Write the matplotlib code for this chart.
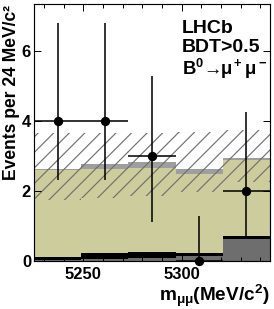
import numpy as np
import matplotlib.pyplot as plt
from matplotlib.ticker import MultipleLocator

plt.rcParams['font.family'] = ['Liberation Sans', 'DejaVu Sans']
plt.rcParams['font.weight'] = 'bold'
plt.rcParams['mathtext.fontset'] = 'custom'
plt.rcParams['mathtext.rm'] = 'Liberation Sans'
plt.rcParams['mathtext.it'] = 'Liberation Sans:italic'
plt.rcParams['mathtext.bf'] = 'Liberation Sans:bold'
plt.rcParams['hatch.linewidth'] = 0.6

# m_mumu bin edges (MeV/c^2), 24 MeV per bin
edges = [5225, 5249, 5273, 5297, 5321, 5345]

# expected contributions, stacked from the bottom up
bkg_gray = [0.04, 0.07, 0.08, 0.15, 0.62]    # dark gray
bkg_black = [0.08, 0.17, 0.17, 0.09, 0.10]   # black
bkg_comb = [2.48, 2.39, 2.42, 2.25, 2.18]    # khaki
sig_exp = [0.03, 0.14, 0.15, 0.14, 0.05]     # light gray

# uncertainty band on the total expectation
band_lo = [1.75, 1.80, 1.85, 1.98, 2.27]
band_hi = [3.66, 3.66, 3.66, 3.68, 3.74]

# observed candidates with asymmetric errors
obs = [4, 4, 3, 0, 2]
obs_lo = [1.67, 1.67, 1.89, 0.0, 1.29]
obs_hi = [2.80, 2.80, 2.30, 1.29, 2.25]

edges = np.array(edges)
left = edges[:-1]
width = np.diff(edges)
centers = left + width / 2

fig = plt.figure(figsize=(274 / 140, 309 / 140), dpi=140)
ax = fig.add_axes([34 / 274, 1 - 261 / 309, 236 / 274, 257 / 309])

bottom = np.zeros(len(left))
for vals, col in [(bkg_gray, '#6e6e6e'), (bkg_black, 'black'),
                  (bkg_comb, '#cccc9c'), (sig_exp, '#9e9e9e')]:
    ax.bar(left, vals, width=width, bottom=bottom, align='edge',
           color=col, linewidth=0)
    bottom = bottom + np.array(vals)

# hatched error band
band_lo = np.array(band_lo)
ax.bar(left, np.array(band_hi) - band_lo, width=width, bottom=band_lo,
       align='edge', fill=False, hatch='///', edgecolor='#707070', linewidth=0)

ax.errorbar(centers, obs, xerr=width / 2, yerr=[obs_lo, obs_hi], fmt='o',
            color='black', ms=3.8, elinewidth=0.8, capsize=0, zorder=5,
            clip_on=False)

ax.set_xlim(5225, 5345)
ax.set_ylim(0, 7.35)
ax.set_yticks([0, 2, 4, 6])
ax.set_xticks([5250, 5300])
ax.xaxis.set_minor_locator(MultipleLocator(10))
ax.tick_params(which='both', direction='in', top=True, right=True,
               width=0.5, labelsize=8.5)
ax.tick_params(which='major', length=3.6)
ax.tick_params(which='minor', length=1.9)
ax.tick_params(axis='x', pad=3.0)
ax.tick_params(axis='y', pad=1.5)
for s in ax.spines.values():
    s.set_linewidth(0.6)

ax.text(0.627, 0.889, 'LHCb', transform=ax.transAxes, fontsize=10,
        fontweight='bold', va='baseline')
ax.text(0.627, 0.813, 'BDT>0.5', transform=ax.transAxes, fontsize=10,
        fontweight='bold', va='baseline')
ax.text(0.627, 0.724, r'$\mathbf{B^0}\!\rightarrow\!\!\mathrm{\mu^+\mu^-}$',
        transform=ax.transAxes, fontsize=9.5, va='baseline')

fig.text(12 / 274, 1 - 5 / 309, 'Events per 24 MeV/c²', rotation=90,
         ha='center', va='top', fontsize=9, fontweight='bold')
fig.text(270 / 274, 8 / 309, r'$\mathbf{m}_{\mathrm{\mu\mu}}\mathbf{(MeV/c^2)}$',
         ha='right', va='baseline', fontsize=9.8)

fig.savefig('out.png', dpi=140)
